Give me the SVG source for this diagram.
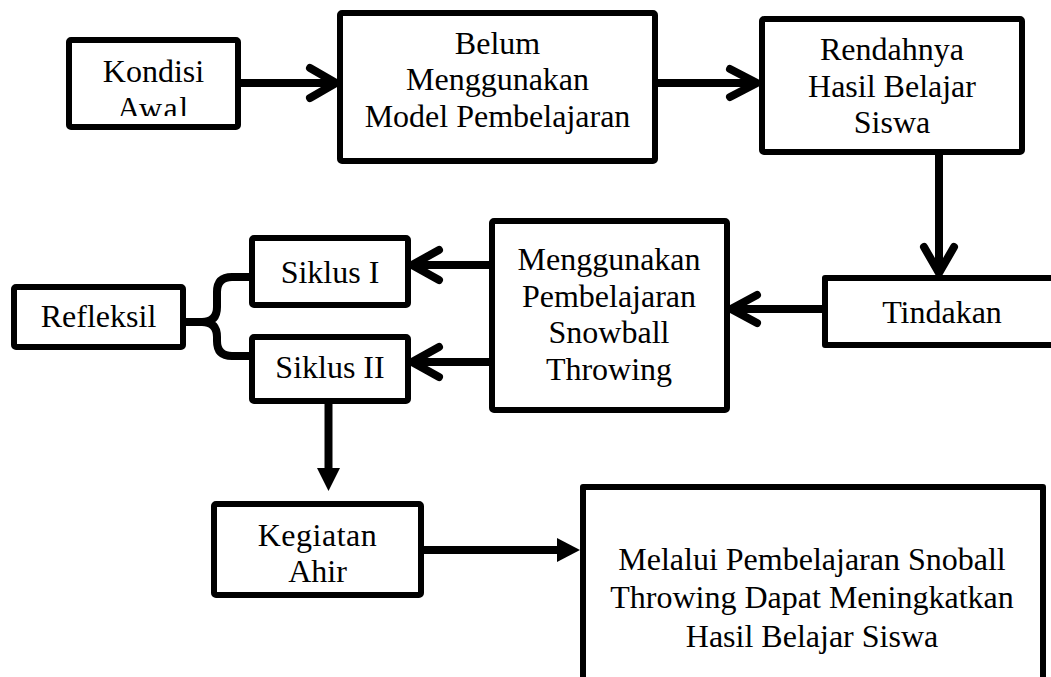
<svg xmlns="http://www.w3.org/2000/svg" width="1051" height="677" viewBox="0 0 1051 677">
<style>
.box{fill:#fff;stroke:#000;stroke-width:6;stroke-linejoin:round}
.t{font-family:"Liberation Serif","Times New Roman",serif;font-size:32px;fill:#000;text-anchor:middle}
.ln{fill:none;stroke:#000;stroke-width:8;stroke-linecap:butt}
.hd{fill:none;stroke:#000;stroke-width:8;stroke-linecap:round;stroke-linejoin:round}
.tri{fill:#000;stroke:none}
</style>
<defs>
<clipPath id="clipAwal"><rect x="60" y="30" width="190" height="86"/></clipPath>
</defs>
<rect width="1051" height="677" fill="#fff"/>
<g id="connectors">
<line class="ln" x1="240" y1="83" x2="334" y2="83"/>
<polyline class="hd" points="310,68 336,83 310,98"/>
<line class="ln" x1="655" y1="83" x2="756" y2="83"/>
<polyline class="hd" points="730,69 757,83 730,97"/>
<line class="ln" x1="939" y1="153" x2="939" y2="272"/>
<polyline class="hd" points="924,247 939,273 954,247"/>
<line class="ln" x1="825" y1="309" x2="732" y2="309"/>
<polyline class="hd" points="757,295 731,309 757,323"/>
<line class="ln" x1="492" y1="265" x2="413" y2="265"/>
<polyline class="hd" points="439,250 412,265 439,280"/>
<line class="ln" x1="492" y1="362" x2="413" y2="362"/>
<polyline class="hd" points="439,347 412,362 439,377"/>
<path class="ln" stroke-width="7" d="M250,277 H232 Q217,277 217,292 V307 Q217,322 202,322 H185 M202,322 Q217,322 217,337 V341 Q217,356 232,356 H250"/>
<line class="ln" x1="328.5" y1="402" x2="328.5" y2="470"/>
<polygon class="tri" points="317,468 340,468 328.5,491"/>
<line class="ln" x1="423" y1="550" x2="559" y2="550"/>
<polygon class="tri" points="557,538 557,562 580,550"/>
</g>
<g id="kondisi">
<rect class="box" x="69" y="40" width="169" height="87" rx="2"/>
<text class="t" x="153.5" y="82">Kondisi</text>
<text class="t" x="153.5" y="119" letter-spacing="1.5" clip-path="url(#clipAwal)">Awal</text>
</g>
<g id="belum">
<rect class="box" x="340" y="13" width="315" height="148" rx="2"/>
<text class="t" x="497.5" y="54">Belum</text>
<text class="t" x="497.5" y="90">Menggunakan</text>
<text class="t" x="497.5" y="127">Model Pembelajaran</text>
</g>
<g id="rendahnya">
<rect class="box" x="762" y="19" width="260" height="133" rx="2"/>
<text class="t" x="892" y="60">Rendahnya</text>
<text class="t" x="892" y="97">Hasil Belajar</text>
<text class="t" x="892" y="133">Siswa</text>
</g>
<g id="tindakan">
<path class="box" d="M1054,278 H825 V345 H1054"/>
<text class="t" x="942" y="323">Tindakan</text>
</g>
<g id="menggunakan">
<rect class="box" x="492" y="221" width="235" height="189" rx="2"/>
<text class="t" x="609" y="270">Menggunakan</text>
<text class="t" x="609" y="307">Pembelajaran</text>
<text class="t" x="609" y="343">Snowball</text>
<text class="t" x="609" y="380">Throwing</text>
</g>
<g id="siklus1">
<rect class="box" x="252" y="238" width="156" height="67" rx="2"/>
<text class="t" x="330" y="283">Siklus I</text>
</g>
<g id="siklus2">
<rect class="box" x="252" y="337" width="156" height="64" rx="2"/>
<text class="t" x="330" y="378">Siklus II</text>
</g>
<g id="refleksil">
<rect class="box" x="14" y="287" width="169" height="60" rx="2"/>
<text class="t" x="98.5" y="327">Refleksil</text>
</g>
<g id="kegiatan">
<rect class="box" x="214" y="504" width="207" height="91" rx="2"/>
<text class="t" x="317.5" y="546" letter-spacing="0.5">Kegiatan</text>
<text class="t" x="317.5" y="582">Ahir</text>
</g>
<g id="melalui">
<path class="box" d="M583,680 V487 H1043 V680"/>
<text class="t" x="812" y="570">Melalui Pembelajaran Snoball</text>
<text class="t" x="812" y="608">Throwing Dapat Meningkatkan</text>
<text class="t" x="812" y="647">Hasil Belajar Siswa</text>
</g>
</svg>
